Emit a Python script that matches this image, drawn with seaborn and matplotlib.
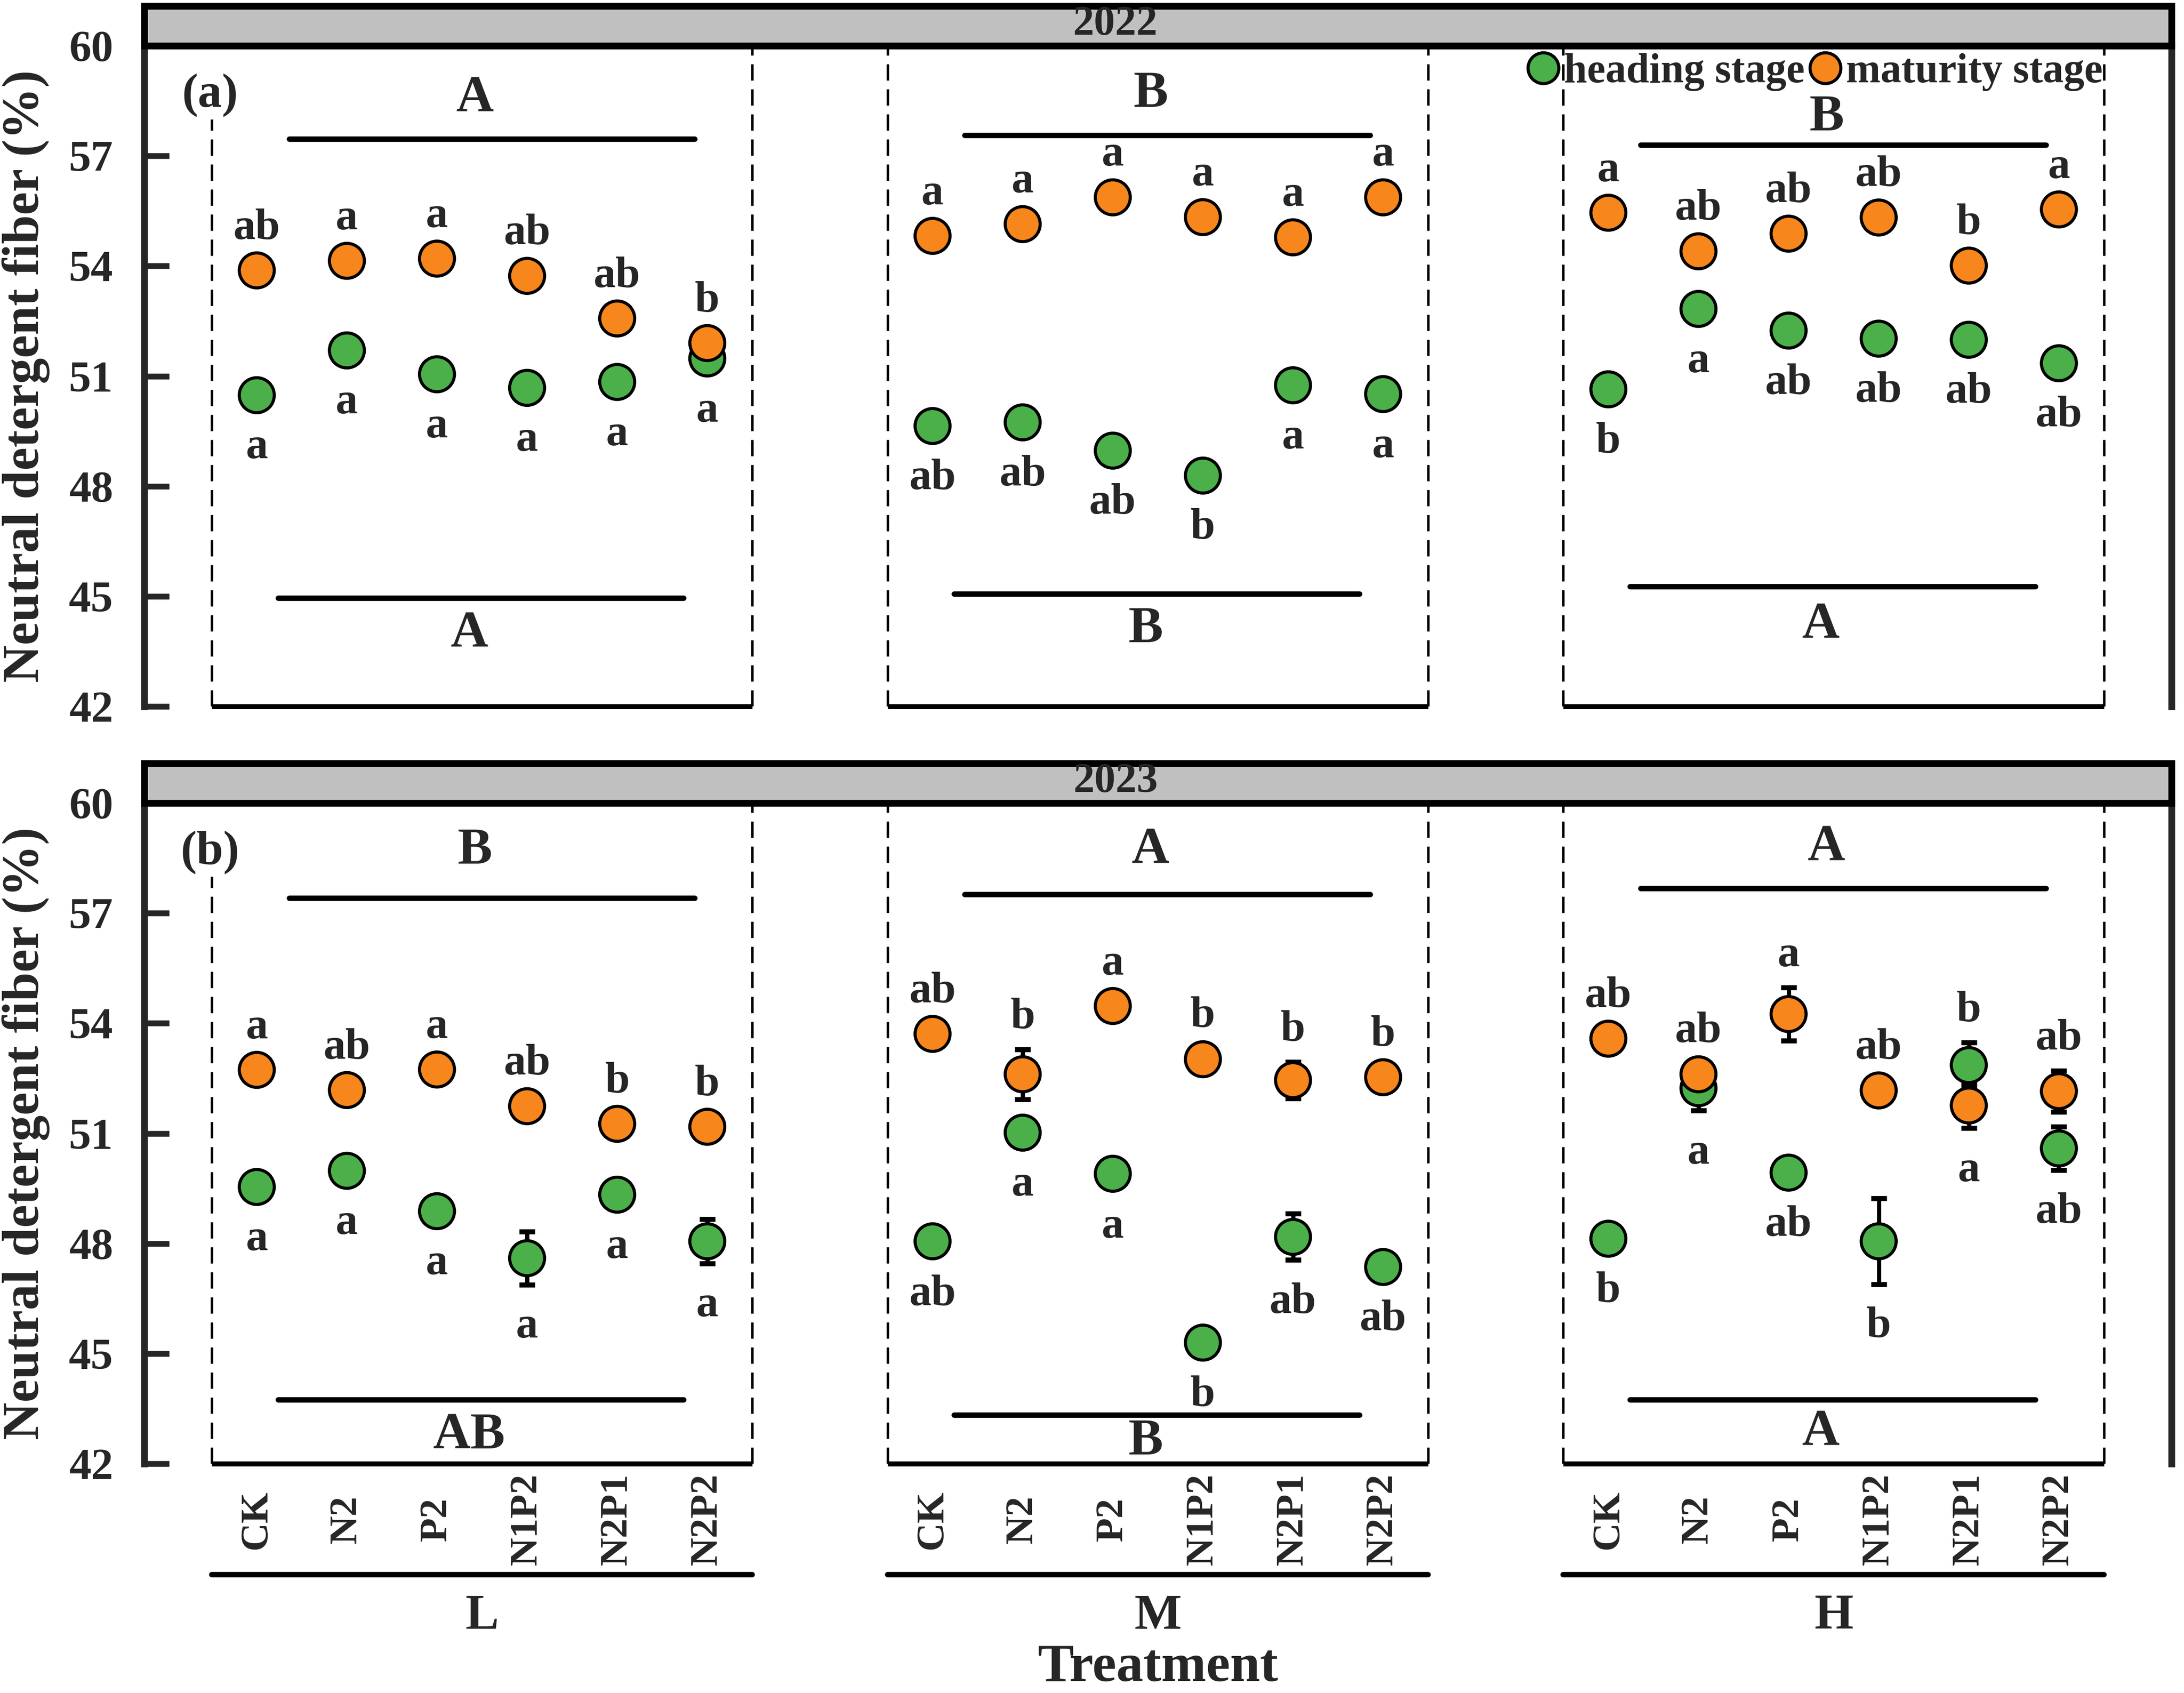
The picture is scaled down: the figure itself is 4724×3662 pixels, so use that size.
import numpy as np
import pandas as pd
import matplotlib
matplotlib.use('Agg')
import matplotlib.pyplot as plt
import seaborn as sns
from matplotlib.lines import Line2D
from matplotlib.patches import Rectangle

sns.set_style('ticks')
plt.rcParams['font.family'] = ['Liberation Serif', 'DejaVu Serif']
plt.rcParams['font.weight'] = 'bold'
plt.rcParams['axes.labelweight'] = 'bold'

# data
years = ['2022', '2023']
levels = ['L', 'M', 'H']
treatments = ['CK', 'N2', 'P2', 'N1P2', 'N2P1', 'N2P2']
stages = ['heading stage', 'maturity stage']

heading_2022 = [50.48, 51.70, 51.05, 50.68, 50.84, 51.48,
                49.64, 49.74, 48.97, 48.29, 50.75, 50.51,
                50.64, 52.83, 52.24, 52.02, 51.99, 51.35]
maturity_2022 = [53.88, 54.14, 54.20, 53.73, 52.57, 51.90,
                 54.82, 55.14, 55.87, 55.33, 54.78, 55.87,
                 55.45, 54.40, 54.88, 55.32, 54.01, 55.54]
heading_2023 = [49.54, 49.98, 48.88, 47.60, 49.33, 48.06,
                48.06, 51.02, 49.90, 45.30, 48.18, 47.36,
                48.13, 52.23, 49.93, 48.06, 52.86, 50.59]
maturity_2023 = [52.73, 52.18, 52.74, 51.74, 51.26, 51.18,
                 53.71, 52.61, 54.47, 53.02, 52.45, 52.53,
                 53.58, 52.61, 54.25, 52.17, 51.76, 52.15]

heading_se_2022 = [0.2] * 18
maturity_se_2022 = [0.2] * 18
heading_se_2023 = [0.2, 0.2, 0.2, 0.72, 0.2, 0.60,
                   0.3, 0.2, 0.3, 0.2, 0.63, 0.2,
                   0.2, 0.61, 0.2, 1.17, 0.61, 0.59]
maturity_se_2023 = [0.2, 0.2, 0.2, 0.2, 0.2, 0.2,
                    0.2, 0.68, 0.2, 0.3, 0.5, 0.2,
                    0.2, 0.3, 0.72, 0.2, 0.62, 0.56]

heading_sig_2022 = ['a', 'a', 'a', 'a', 'a', 'a',
                    'ab', 'ab', 'ab', 'b', 'a', 'a',
                    'b', 'a', 'ab', 'ab', 'ab', 'ab']
maturity_sig_2022 = ['ab', 'a', 'a', 'ab', 'ab', 'b',
                     'a', 'a', 'a', 'a', 'a', 'a',
                     'a', 'ab', 'ab', 'ab', 'b', 'a']
heading_sig_2023 = ['a', 'a', 'a', 'a', 'a', 'a',
                    'ab', 'a', 'a', 'b', 'ab', 'ab',
                    'b', 'a', 'ab', 'b', 'a', 'ab']
maturity_sig_2023 = ['a', 'ab', 'a', 'ab', 'b', 'b',
                     'ab', 'b', 'a', 'b', 'b', 'b',
                     'ab', 'ab', 'a', 'ab', 'b', 'ab']

# group-level letters (maturity above, heading below)
maturity_group_2022 = ['A', 'B', 'B']
heading_group_2022 = ['A', 'B', 'A']
maturity_group_2023 = ['B', 'A', 'A']
heading_group_2023 = ['AB', 'B', 'A']

# layout
step = 7.5
upper_bar = {'2022': [57.45, 57.56, 57.29], '2023': [57.41, 57.50, 57.67]}
lower_bar = {'2022': [44.95, 45.06, 45.27], '2023': [43.74, 43.32, 43.74]}
upper_tag = {'2022': [58.55, 58.68, 58.03], '2023': [58.69, 58.69, 58.77]}
lower_tag = {'2022': [43.96, 44.09, 44.20], '2023': [42.76, 42.60, 42.84]}
green = '#4BB04A'
orange = '#F7861C'
palette = {'heading stage': green, 'maturity stage': orange}

series = {
    '2022': (heading_2022, maturity_2022, heading_se_2022, maturity_se_2022,
             heading_sig_2022, maturity_sig_2022, heading_group_2022, maturity_group_2022),
    '2023': (heading_2023, maturity_2023, heading_se_2023, maturity_se_2023,
             heading_sig_2023, maturity_sig_2023, heading_group_2023, maturity_group_2023),
}

rows = []
for yr in years:
    h, m, hse, mse = series[yr][:4]
    for st, vals, errs in (('heading stage', h, hse), ('maturity stage', m, mse)):
        for gi, lev in enumerate(levels):
            for ti, tr in enumerate(treatments):
                k = gi * 6 + ti
                rows.append(dict(year=yr, level=lev, treatment=tr, stage=st,
                                 value=vals[k], se=errs[k], x=gi * step + ti))
df = pd.DataFrame(rows)

fig = plt.figure(figsize=(4724 / 300, 3662 / 300), dpi=300)
axes = [fig.add_axes([0.0660, 0.5827, 0.9283, 0.3903]),
        fig.add_axes([0.0660, 0.1354, 0.9283, 0.3903])]

for ax, yr, tag in zip(axes, years, ['(a)', '(b)']):
    d = df[df['year'] == yr]
    hsig, msig, hgrp, mgrp = series[yr][4:]

    for st in stages:
        ds = d[d['stage'] == st]
        ax.errorbar(ds['x'], ds['value'], yerr=ds['se'], fmt='none', ecolor='black',
                    elinewidth=2.2, capsize=4, capthick=2.6, zorder=2)
    sns.scatterplot(data=d, x='x', y='value', hue='stage', hue_order=stages,
                    palette=palette, s=330, edgecolor='black', linewidth=1.6,
                    legend=False, ax=ax, zorder=3)

    # point letters
    for gi in range(3):
        for ti in range(6):
            k = gi * 6 + ti
            p = d[(d['level'] == levels[gi]) & (d['treatment'] == treatments[ti])]
            reach = np.maximum(0.48, p['se'].values + 0.2)
            top = (p['value'].values + reach).max() + 0.67
            bot = (p['value'].values - reach).min() - 0.95
            xx = gi * step + ti
            ax.text(xx, top, msig[k], ha='center', va='center', fontsize=23, zorder=5)
            ax.text(xx, bot, hsig[k], ha='center', va='center', fontsize=23, zorder=5)

    # group boxes, bars and letters
    for gi in range(3):
        x0, x1 = gi * step - 0.5, gi * step + 5.5
        for xv in (x0, x1):
            ax.plot([xv, xv], [42, 60], color='black', lw=1.3, ls=(0, (6.5, 3.5)), zorder=1)
        ax.plot([x0, x1], [42, 42], color='black', lw=2.6, clip_on=False, zorder=4,
                solid_capstyle='butt')
        uy = upper_bar[yr][gi]
        ly = lower_bar[yr][gi]
        ax.plot([gi * step + 0.36, gi * step + 4.86], [uy, uy], color='black', lw=2.8)
        ax.plot([gi * step + 0.24, gi * step + 4.74], [ly, ly], color='black', lw=2.8)
        ax.text(gi * step + 2.42, upper_tag[yr][gi], mgrp[gi], ha='center', va='center',
                fontsize=27)
        ax.text(gi * step + 2.36, lower_tag[yr][gi], hgrp[gi], ha='center', va='center',
                fontsize=27, clip_on=False, zorder=6)

    ax.set_xlim(-1.25, 2 * step + 5.5 + 0.75)
    ax.set_ylim(42, 60)
    ax.set_yticks(np.arange(42, 61, 3))
    ax.tick_params(axis='y', direction='in', length=13, width=3, pad=16, labelsize=23)
    for lab in ax.get_yticklabels():
        lab.set_fontweight('bold')
    ax.spines['top'].set_visible(False)
    ax.spines['bottom'].set_visible(False)
    ax.spines['left'].set_linewidth(3.5)
    ax.spines['right'].set_linewidth(3.5)
    ax.set_ylabel('Neutral detergent fiber (%)', fontsize=27, fontweight='bold')
    ax.yaxis.set_label_coords(-0.0465, 0.5)
    ax.set_xlabel('')

    # year strip
    ax.add_patch(Rectangle((0, 1), 1, 0.06, transform=ax.transAxes, clip_on=False,
                           facecolor='#C0C0C0', edgecolor='black', lw=3.5, zorder=6))
    ax.text(0.479, 1.032, yr, transform=ax.transAxes, ha='center', va='center',
            fontsize=22, zorder=7)
    # white patch hides the top of the dashed line behind the panel tag
    ax.plot([-0.5, -0.5], [58.0, 60], color='white', lw=4, zorder=5, solid_capstyle='butt')
    ax.text(-0.52, 58.65, tag, ha='center', va='center', fontsize=25, zorder=6,
            bbox=dict(facecolor='white', edgecolor='none', pad=1))

top_ax, bot_ax = axes
top_ax.set_xticks([])

handles = [Line2D([], [], marker='o', ls='', markerfacecolor=palette[s],
                  markeredgecolor='black', markeredgewidth=1.6, markersize=16) for s in stages]
top_ax.legend(handles, stages, loc='center right', bbox_to_anchor=(0.966, 0.96), ncol=2,
              frameon=False, handletextpad=0.05, columnspacing=0.05, handlelength=0.9,
              borderaxespad=0, borderpad=0, prop={'size': 21.5, 'weight': 'bold'})

xpos = [gi * step + ti for gi in range(3) for ti in range(6)]
bot_ax.set_xticks(xpos)
bot_ax.set_xticklabels(treatments * 3, rotation=90, fontsize=20.5, fontweight='bold', va='center')
bot_ax.tick_params(axis='x', length=0, pad=29)

for gi, lev in enumerate(levels):
    bot_ax.plot([gi * step - 0.5, gi * step + 5.5], [38.98, 38.98], color='black', lw=2.8,
                clip_on=False)
    bot_ax.text(gi * step + 2.5, 37.83, lev, ha='center', va='center', fontsize=26)
bot_ax.text(10.0, 36.43, 'Treatment', ha='center', va='center', fontsize=28)

plt.savefig('out.png', dpi=300)
